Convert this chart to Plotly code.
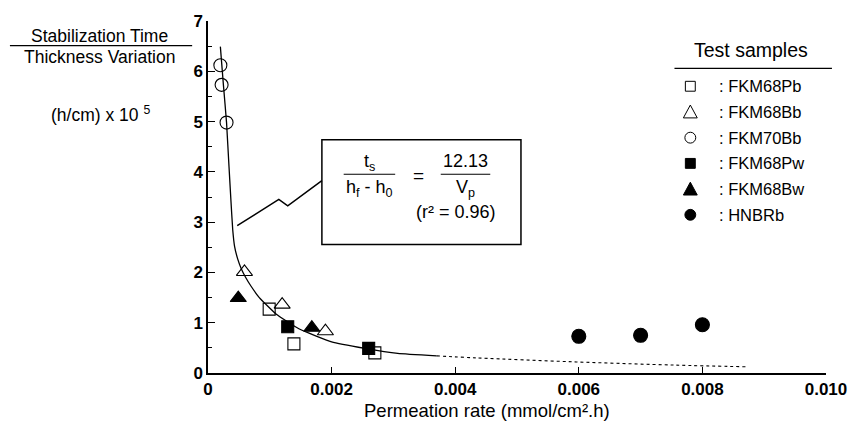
import plotly.graph_objects as go

# ---------------- data ----------------
fkm68pb_x = [0.00099, 0.00139, 0.0027]
fkm68pb_y = [1.27, 0.58, 0.40]
fkm68bb_x = [0.00059, 0.0012, 0.0019]
fkm68bb_y = [2.01, 1.36, 0.83]
fkm70bb_x = [0.0002, 0.00022, 0.0003]
fkm70bb_y = [6.12, 5.73, 4.98]
fkm68pw_x = [0.00129, 0.0026]
fkm68pw_y = [0.92, 0.49]
fkm68bw_x = [0.00049, 0.00168]
fkm68bw_y = [1.49, 0.90]
hnbrb_x = [0.0060, 0.0070, 0.0080]
hnbrb_y = [0.73, 0.75, 0.96]

fit_solid_x = [0.0002, 0.00025, 0.0003, 0.00034, 0.00037, 0.0004, 0.00043, 0.00048,
               0.00054, 0.00061, 0.0007, 0.00083, 0.0011, 0.00147, 0.002, 0.00254,
               0.00307, 0.0037]
fit_solid_y = [6.49, 5.72, 4.98, 4.1, 3.45, 2.85, 2.52, 2.27,
               2.07, 1.90, 1.72, 1.50, 1.175, 0.88, 0.62, 0.49,
               0.39, 0.34]
fit_dot_x = [0.0037, 0.00435, 0.00596, 0.00756, 0.0087]
fit_dot_y = [0.34, 0.30, 0.22, 0.157, 0.124]

x_ticks = [0, 0.002, 0.004, 0.006, 0.008, 0.010]
x_ticktext = ["0", "0.002", "0.004", "0.006", "0.008", "0.010"]
y_ticks = [0, 1, 2, 3, 4, 5, 6, 7]

legend_names = [": FKM68Pb", ": FKM68Bb", ": FKM70Bb", ": FKM68Pw", ": FKM68Bw", ": HNBRb"]

# ---------------- layout helpers ----------------
L, R, T, B = 208, 27, 17, 52
W, H = 859, 425
PW, PH = W - L - R, H - T - B


def px(x):
    return (x - L) / PW


def py(y):
    return (H - B - y) / PH


FONT = "Liberation Sans, Arial, sans-serif"

fig = go.Figure()

fig.add_trace(go.Scatter(x=fit_solid_x, y=fit_solid_y, mode="lines",
                         line=dict(color="black", width=1.3, shape="spline", smoothing=0.4),
                         showlegend=False, hoverinfo="skip"))
fig.add_trace(go.Scatter(x=fit_dot_x, y=fit_dot_y, mode="lines",
                         line=dict(color="black", width=1.1, dash="dot", shape="spline"),
                         showlegend=False, hoverinfo="skip"))

series = [
    (fkm68pb_x, fkm68pb_y, "square-open", 12),
    (fkm68bb_x, fkm68bb_y, "triangle-up-open", 14),
    (fkm70bb_x, fkm70bb_y, "circle-open", 13),
    (fkm68pw_x, fkm68pw_y, "square", 12),
    (fkm68bw_x, fkm68bw_y, "triangle-up", 14),
    (hnbrb_x, hnbrb_y, "circle", 14),
]
for (xs, ys, sym, sz), name in zip(series, legend_names):
    fig.add_trace(go.Scatter(x=xs, y=ys, mode="markers", name=name.strip(": "),
                             marker=dict(symbol=sym, size=sz, color="black",
                                         line=dict(color="black", width=1.1)),
                             showlegend=False))

shapes = []
annotations = []

# formula box
shapes.append(dict(type="rect", xref="paper", yref="paper",
                   x0=px(323), x1=px(524), y0=py(243), y1=py(137),
                   line=dict(color="black", width=1.5), fillcolor="white", layer="above"))
# zig-zag callout
shapes.append(dict(type="path", xref="paper", yref="paper",
                   path=f"M {px(323)},{py(178.5)} L {px(288.5)},{py(204)} L {px(279.5)},{py(197.5)} L {px(237.5)},{py(224)}",
                   line=dict(color="black", width=1.5)))
# fraction bars
shapes.append(dict(type="line", xref="paper", yref="paper",
                   x0=px(345), x1=px(397), y0=py(172), y1=py(172),
                   line=dict(color="black", width=1.2)))
shapes.append(dict(type="line", xref="paper", yref="paper",
                   x0=px(443), x1=px(493), y0=py(172), y1=py(172),
                   line=dict(color="black", width=1.2)))


def ann(x, y, text, size=16, xanchor="center", weight="normal"):
    annotations.append(dict(xref="paper", yref="paper", x=px(x), y=py(y), text=text,
                            showarrow=False, xanchor=xanchor, yanchor="middle",
                            font=dict(family=FONT, size=size, color="black", weight=weight)))


ann(371, 160, "t<sub>s</sub>", 18)
ann(371, 186, "h<sub>f</sub> - h<sub>0</sub>", 18)
ann(421, 173, "=", 19)
ann(468, 159, "12.13", 18)
ann(468, 186, "V<sub>p</sub>", 18)
ann(458, 210, "(r² = 0.96)", 18)

# y-axis title
ann(98, 32, "Stabilization Time", 17.5)
shapes.append(dict(type="line", xref="paper", yref="paper",
                   x0=px(8), x1=px(192), y0=py(42), y1=py(42),
                   line=dict(color="black", width=1.3)))
ann(98, 53, "Thickness Variation", 17.5)
ann(99, 111, "(h/cm) x 10 <sup>5</sup>", 17.5)

# x-axis title
ann(490, 411, "Permeation rate (mmol/cm².h)", 18.5)

# legend
ann(756, 46, "Test samples", 19.5)
shapes.append(dict(type="line", xref="paper", yref="paper",
                   x0=px(679), x1=px(838), y0=py(65), y1=py(65),
                   line=dict(color="black", width=1.3)))
mx = 695
row_y0, row_dy = 83, 26
for i, name in enumerate(legend_names):
    yy = row_y0 + i * row_dy
    ann(722, yy, name, 16.5, xanchor="left")
    filled = i >= 3
    fc = "black" if filled else "white"
    kind = i % 3
    if kind == 0:
        s = 5
        shapes.append(dict(type="rect", xref="paper", yref="paper",
                           x0=px(mx - s), x1=px(mx + s), y0=py(yy + s), y1=py(yy - s),
                           line=dict(color="black", width=1), fillcolor=fc))
    elif kind == 1:
        shapes.append(dict(type="path", xref="paper", yref="paper",
                           path=f"M {px(mx-7)},{py(yy+6)} L {px(mx+7)},{py(yy+6)} L {px(mx)},{py(yy-7)} Z",
                           line=dict(color="black", width=1), fillcolor=fc))
    else:
        r = 5.5
        shapes.append(dict(type="circle", xref="paper", yref="paper",
                           x0=px(mx - r), x1=px(mx + r), y0=py(yy + r), y1=py(yy - r),
                           line=dict(color="black", width=1), fillcolor=fc))

fig.update_layout(
    width=W, height=H,
    margin=dict(l=L, r=R, t=T, b=B),
    paper_bgcolor="white", plot_bgcolor="white",
    shapes=shapes, annotations=annotations,
    showlegend=False,
    xaxis=dict(range=[0, 0.010], tickvals=x_ticks, ticktext=x_ticktext,
               showline=True, linecolor="black", linewidth=1.5,
               ticks="inside", ticklen=6, tickwidth=1.3, tickcolor="black",
               showgrid=False, zeroline=False,
               tickfont=dict(family=FONT, size=17, color="black", weight="bold")),
    yaxis=dict(range=[0, 7], tickvals=y_ticks,
               showline=True, linecolor="black", linewidth=1.5,
               ticks="inside", ticklen=7, tickwidth=1.3, tickcolor="black",
               minor=dict(dtick=0.5, ticks="inside", ticklen=4, tickwidth=1.1, tickcolor="black"),
               showgrid=False, zeroline=False,
               tickfont=dict(family=FONT, size=17, color="black", weight="bold")),
)

fig.write_html("out.html")
